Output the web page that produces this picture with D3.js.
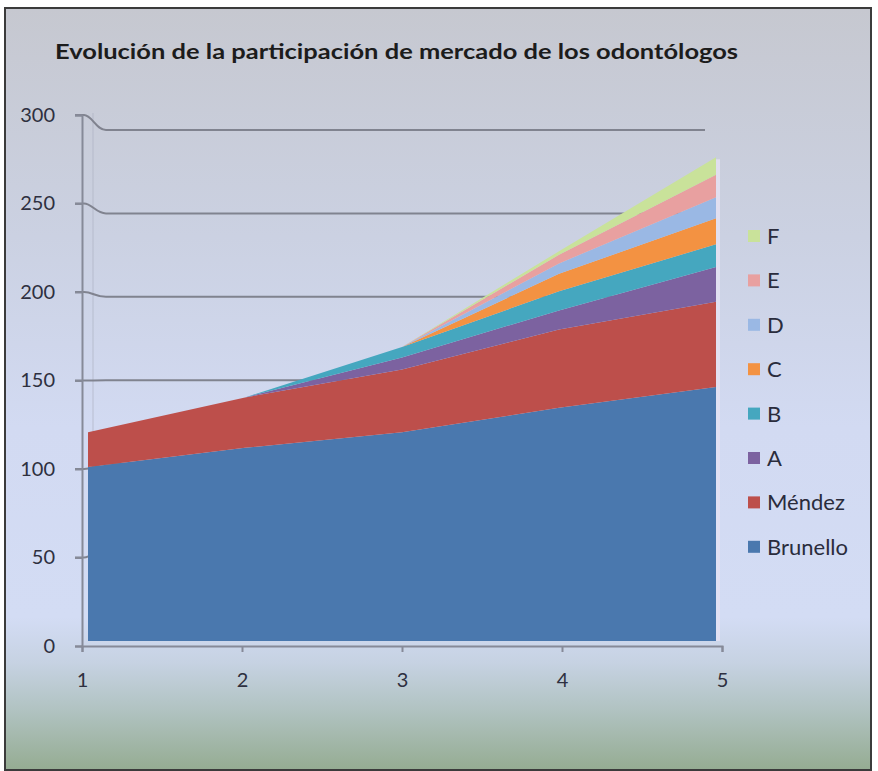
<!DOCTYPE html>
<html>
<head>
<meta charset="utf-8">
<script src="https://cdn.jsdelivr.net/npm/d3@7/dist/d3.min.js"></script>
<style>
  html, body { margin: 0; padding: 0; background: #ffffff; }
  svg { display: block; }
</style>
</head>
<body>
<svg id="chart" width="878" height="771"></svg>
<script>
// Periods on the horizontal axis
const periods = [1, 2, 3, 4, 5];

// Market share per dentist, one array per series (stacked bottom to top)
const brunello = [100, 111, 120, 134, 146];
const mendez   = [20, 29, 36, 45, 49];
const seriesA  = [0, 0, 7, 11, 20];
const seriesB  = [0, 0, 6, 11, 13];
const seriesC  = [0, 0, 0, 10, 15];
const seriesD  = [0, 0, 0, 6, 12];
const seriesE  = [0, 0, 0, 5, 13];
const seriesF  = [0, 0, 0, 2, 10];

const seriesNames = ["Brunello", "Méndez", "A", "B", "C", "D", "E", "F"];
const seriesValues = [brunello, mendez, seriesA, seriesB, seriesC, seriesD, seriesE, seriesF];
const seriesColors = ["#4a78ae", "#bd4f4b", "#7c62a0", "#45a7bf", "#f39242", "#9ab8e4", "#e8a0a0", "#c9e29a"];

const yTicks = [0, 50, 100, 150, 200, 250, 300];
const gridValues = [50, 100, 150, 200, 250, 300];
const title = "Evolución de la participación de mercado de los odontólogos";

const svg = d3.select("#chart");

// Background gradient
const defs = svg.append("defs");
const bg = defs.append("linearGradient").attr("id", "bg")
  .attr("x1", 0).attr("y1", 0).attr("x2", 0).attr("y2", 1);
[[0, "#c6c8d0"], [0.3, "#cbd1e2"], [0.55, "#d2daf2"], [0.8, "#d3dcf4"],
 [0.86, "#c6d2e2"], [0.92, "#b1c3c2"], [1, "#95ac92"]].forEach(([o, c]) =>
  bg.append("stop").attr("offset", o).attr("stop-color", c));

svg.append("rect").attr("x", 5).attr("y", 8).attr("width", 866).attr("height", 762)
  .attr("fill", "url(#bg)").attr("stroke", "#3b3b3b").attr("stroke-width", 2);

// Title
svg.append("text")
  .attr("x", 55).attr("y", 59)
  .attr("font-family", "Lato, 'Open Sans', sans-serif")
  .attr("font-weight", "bold").attr("font-size", 21)
  .attr("fill", "#1c1c1c")
  .attr("textLength", 683).attr("lengthAdjust", "spacingAndGlyphs")
  .text(title);

// Scales: axis (front edge), back wall, and front face of the areas
const yAxisScale = d3.scaleLinear().domain([0, 300]).range([646, 115]);
const yWall = d3.scaleLinear().domain([0, 300]).range([630.5, 130]);
const yFront = d3.scaleLinear().domain([0, 300]).range([641, 119]);
const xAxisScale = d3.scaleLinear().domain([1, 5]).range([82, 722]);
const xFront = d3.scaleLinear().domain([1, 5]).range([88, 716]);

// Faint back-wall edge
svg.append("line").attr("x1", 93).attr("x2", 93).attr("y1", 113).attr("y2", 640)
  .attr("stroke", "#aeb3c4").attr("stroke-width", 1).attr("opacity", 0.7);

// Gridlines bending from the axis onto the back wall
const grid = svg.append("g").attr("fill", "none").attr("stroke", "#80838f").attr("stroke-width", 2);
gridValues.forEach(v => {
  const ya = yAxisScale(v), yw = yWall(v);
  const p = d3.path();
  p.moveTo(75, ya);
  p.lineTo(84, ya);
  p.bezierCurveTo(92, ya, 96, yw, 106, yw);
  p.lineTo(705, yw);
  grid.append("path").attr("d", p.toString());
});

// Stacked areas
const table = periods.map((p, i) => {
  const row = { period: p };
  seriesNames.forEach((n, k) => row[n] = seriesValues[k][i]);
  return row;
});
const stacked = d3.stack().keys(seriesNames)(table);
const area = d3.area()
  .x(d => xFront(d.data.period))
  .y0(d => yFront(d[0]))
  .y1(d => yFront(d[1]));

svg.append("g").selectAll("path").data(stacked).join("path")
  .attr("d", area)
  .attr("fill", (d, i) => seriesColors[i]);

// Light side edge of the block
const lastTotal = d3.sum(seriesValues, s => s[s.length - 1]);
svg.append("rect")
  .attr("x", xFront(5)).attr("y", yFront(lastTotal) + 2)
  .attr("width", 4).attr("height", yFront(0) - yFront(lastTotal) - 2)
  .attr("fill", "#e6e2f4").attr("opacity", 0.8);

// Axes
const axisColor = "#868a98";
const yAxis = svg.append("g").attr("transform", "translate(82,0)")
  .call(d3.axisLeft(yAxisScale).tickValues(yTicks).tickSize(7).tickPadding(20));
const xAxis = svg.append("g").attr("transform", "translate(0,646)")
  .call(d3.axisBottom(xAxisScale).tickValues(periods).tickSize(6).tickPadding(21)
    .tickFormat(d3.format("d")));
[yAxis, xAxis].forEach(g => {
  g.select(".domain").attr("stroke", axisColor).attr("stroke-width", 2);
  g.selectAll(".tick line").attr("stroke", axisColor).attr("stroke-width", 2);
  g.selectAll(".tick text").attr("fill", "#2e3040")
    .attr("font-family", "Lato, 'Open Sans', sans-serif").attr("font-size", 20);
});

// Legend (top series first)
const legend = svg.append("g").attr("transform", "translate(748,236)");
const legendOrder = seriesNames.map((n, i) => ({ name: n, color: seriesColors[i] })).reverse();
const items = legend.selectAll("g").data(legendOrder).join("g")
  .attr("transform", (d, i) => `translate(0,${i * 44.4})`);
items.append("rect").attr("x", 0).attr("y", -6).attr("width", 12).attr("height", 12)
  .attr("fill", d => d.color);
items.append("text").attr("x", 19).attr("y", 0).attr("dy", "0.36em")
  .attr("font-family", "Lato, 'Open Sans', sans-serif").attr("font-size", 22)
  .attr("fill", "#2a2c3c")
  .text(d => d.name);
</script>
</body>
</html>
